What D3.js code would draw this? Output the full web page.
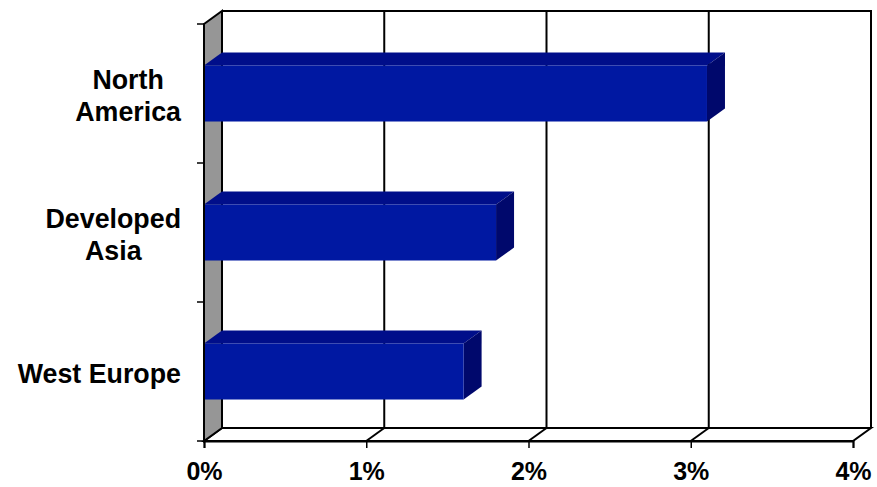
<!DOCTYPE html>
<html>
<head>
<meta charset="utf-8">
<script src="https://cdn.jsdelivr.net/npm/d3@7"></script>
<style>
  html, body { margin: 0; padding: 0; background: #fff; }
  svg { display: block; }
  text { font-family: "Liberation Sans", Arial, sans-serif; font-weight: bold; fill: #000; }
</style>
</head>
<body>
<svg id="chart" width="877" height="487"></svg>
<script>
// Region names (one line per array entry) and growth values in percent
const categories = [["North", "America"], ["Developed", "Asia"], ["West Europe"]];
const values = [3.1, 1.8, 1.6];
const tickValues = [0, 1, 2, 3, 4];
const tickLabels = ["0%", "1%", "2%", "3%", "4%"];

(function () {
const svg = d3.select("#chart");

// Front plane of the plot and 3D depth offset
const pLeft = 204, pRight = 853, pTop = 24, pBottom = 441;
const dx = 18, dy = -13;

const x = d3.scaleLinear().domain([0, 4]).range([pLeft, pRight]);
const keys = categories.map(c => c.join(" "));
const y = d3.scaleBand().domain(keys).range([pTop, pBottom]).paddingInner(0.597).paddingOuter(0.2985);

const g = svg.append("g");
const pts = a => a.map(p => p.join(",")).join(" ");

// Back wall
g.append("rect")
  .attr("x", pLeft + dx).attr("y", pTop + dy)
  .attr("width", x(4) - pLeft).attr("height", pBottom - pTop)
  .attr("fill", "#fff");

// Vertical gridlines on the back wall
g.selectAll(".grid").data(tickValues.slice(1, -1)).join("line")
  .attr("x1", d => x(d) + dx).attr("x2", d => x(d) + dx)
  .attr("y1", pTop + dy).attr("y2", pBottom + dy)
  .attr("stroke", "#000").attr("stroke-width", 2);

// Back wall top and right edges
g.append("polyline")
  .attr("points", pts([[pLeft + dx, pTop + dy], [x(4) + dx, pTop + dy], [x(4) + dx, pBottom + dy]]))
  .attr("fill", "none").attr("stroke", "#000").attr("stroke-width", 2);

// Floor
g.append("polygon")
  .attr("points", pts([[pLeft, pBottom], [pLeft + dx, pBottom + dy], [x(4) + dx, pBottom + dy], [x(4), pBottom]]))
  .attr("fill", "#fff").attr("stroke", "#000").attr("stroke-width", 2);

// Floor grid diagonals
g.selectAll(".floorgrid").data(tickValues.slice(1, -1)).join("line")
  .attr("x1", d => x(d)).attr("y1", pBottom)
  .attr("x2", d => x(d) + dx).attr("y2", pBottom + dy)
  .attr("stroke", "#000").attr("stroke-width", 2);

// Side wall
g.append("polygon")
  .attr("points", pts([[pLeft, pTop], [pLeft + dx, pTop + dy], [pLeft + dx, pBottom + dy], [pLeft, pBottom]]))
  .attr("fill", "#969696").attr("stroke", "#000").attr("stroke-width", 2);

// Bars (top face, end face, front face)
const bars = g.selectAll(".bar").data(values).join("g");
bars.each(function (v, i) {
  const b = d3.select(this);
  const y0 = y(keys[i]), y1 = y0 + y.bandwidth();
  const x0 = x(0), x1 = x(v);
  b.append("polygon")
    .attr("points", pts([[x0, y0], [x0 + dx, y0 + dy], [x1 + dx, y0 + dy], [x1, y0]]))
    .attr("fill", "#000E8A");
  b.append("polygon")
    .attr("points", pts([[x1, y0], [x1 + dx, y0 + dy], [x1 + dx, y1 + dy], [x1, y1]]))
    .attr("fill", "#00086C");
  b.append("rect")
    .attr("x", x0).attr("y", y0).attr("width", x1 - x0).attr("height", y1 - y0)
    .attr("fill", "#0018A2");
});

// Category axis line and ticks at band boundaries
g.append("line")
  .attr("x1", pLeft).attr("x2", pLeft).attr("y1", pTop).attr("y2", pBottom)
  .attr("stroke", "#000").attr("stroke-width", 2);
const bounds = keys.map(k => y(k) - y.step() * y.paddingInner() / 2).concat([pBottom]);
g.selectAll(".ytick").data(bounds).join("line")
  .attr("x1", pLeft - 7).attr("x2", pLeft).attr("y1", d => d).attr("y2", d => d)
  .attr("stroke", "#000").attr("stroke-width", 1.5);

// Value axis along the front edge of the floor
const xAxis = d3.axisBottom(x).tickValues(tickValues)
  .tickFormat((d, i) => tickLabels[i]).tickSize(7).tickPadding(14);
const ax = g.append("g").attr("transform", `translate(0,${pBottom})`).call(xAxis);
ax.select(".domain").attr("stroke", "#000").attr("stroke-width", 2);
ax.selectAll(".tick line").attr("stroke", "#000").attr("stroke-width", 1.5);
ax.selectAll(".tick text")
  .style("font-family", '"Liberation Sans", Arial, sans-serif')
  .style("font-weight", "bold").style("font-size", "25px").attr("fill", "#000");

// Category labels, centred lines, block right-aligned
const labelRight = 181, lineH = 32.7, fs = 26.8;
keys.forEach((k, i) => {
  const lines = categories[i];
  const cy = y(k) + y.bandwidth() / 2;
  const t = g.append("text").attr("font-size", fs + "px").attr("text-anchor", "middle");
  const spans = lines.map(s => t.append("tspan").text(s));
  let wMax = 0;
  spans.forEach(sp => { wMax = Math.max(wMax, sp.node().getComputedTextLength()); });
  const cx = labelRight - wMax / 2;
  const firstBase = cy - (lines.length - 1) * lineH / 2 + 11.5;
  spans.forEach((sp, j) => sp.attr("x", cx).attr("y", firstBase + j * lineH));
});
})();
</script>
</body>
</html>
